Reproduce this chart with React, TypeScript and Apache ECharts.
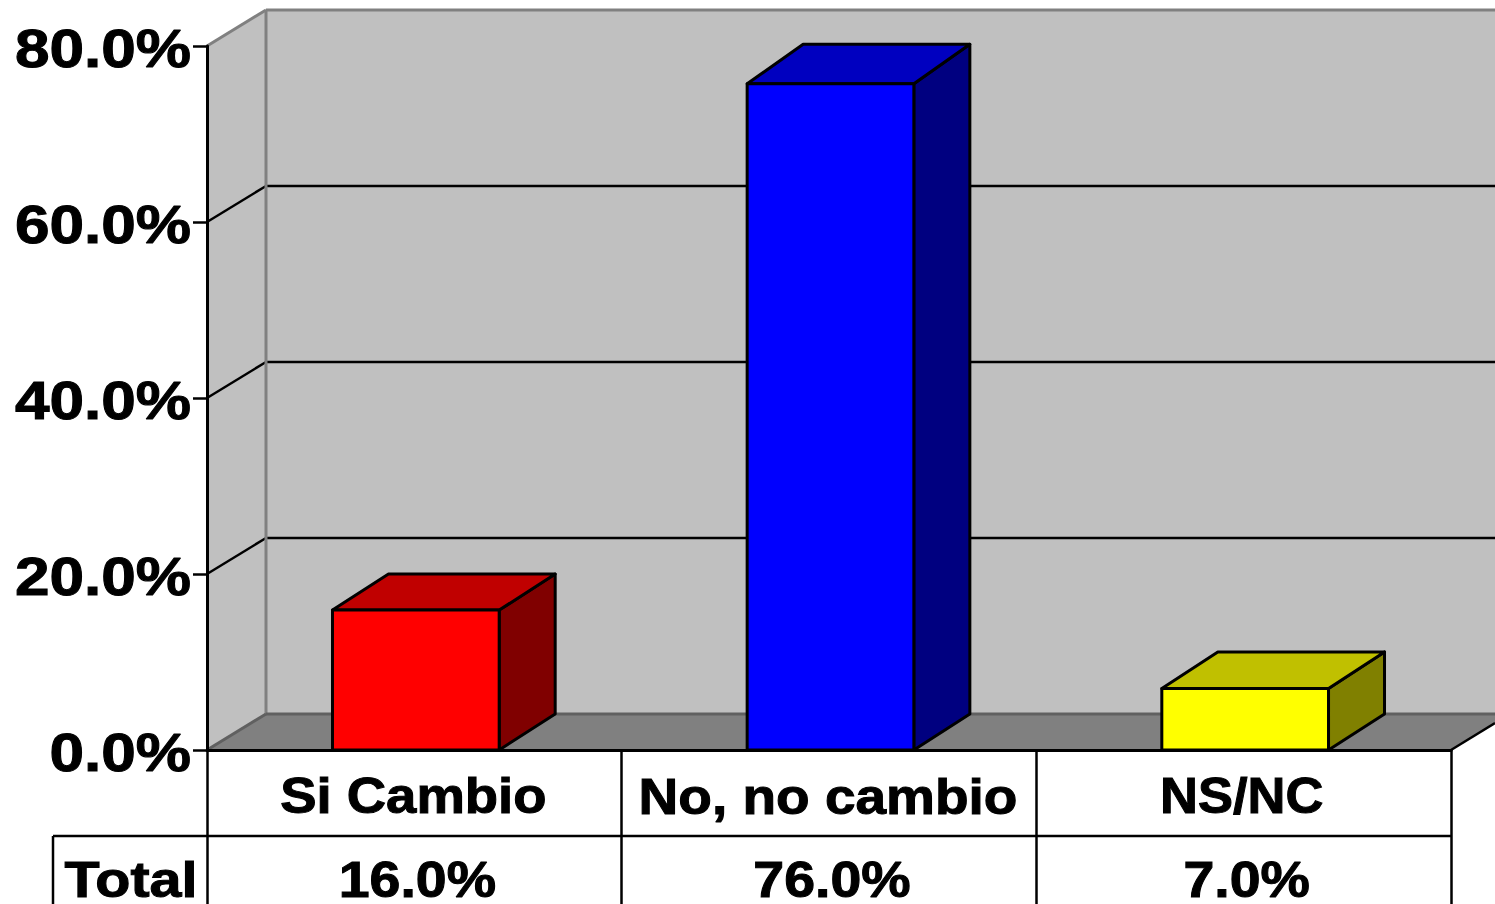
import React, { useEffect, useRef } from "react";
import * as echarts from "echarts";

const categories = ["Si Cambio", "No, no cambio", "NS/NC"];
const barValues = [15.9, 75.7, 7.0];
const totalLabels = ["16.0%", "76.0%", "7.0%"];
const rowLabel = "Total";
const yTicks = [0, 20, 40, 60, 80];
const frontColors = ["#FF0000", "#0000FF", "#FFFF00"];
const topColors = ["#C00000", "#0000C0", "#C0C000"];
const sideColors = ["#800000", "#000080", "#808000"];

const FONT = '"Liberation Sans", Arial, sans-serif';
const WALL_DX = 59;
const WALL_DY = -36;
const BAR_DX = 56;
const BAR_BASE_DEPTH = 36;
const barDepths = [36, 39.5, 36.5];
const categoryScale = [1.09, 1.1, 1.05];
const categoryShift = [-1, -1, -2];

const text = (t: string, x: number, y: number, size: number, sx: number, align: string) => ({
  type: "text",
  x,
  y,
  scaleX: sx,
  silent: true,
  style: {
    text: t,
    fill: "#000",
    stroke: "#000",
    lineWidth: 1,
    font: `bold ${size}px ${FONT}`,
    align,
    verticalAlign: "middle",
  },
});

const poly = (points: number[][], fill: string, stroke?: string, lineWidth = 3) => ({
  type: "polygon",
  silent: true,
  shape: { points },
  style: { fill, stroke: stroke ?? "none", lineWidth, lineJoin: "round" },
});

const line = (x1: number, y1: number, x2: number, y2: number, stroke: string, lineWidth: number) => ({
  type: "line",
  silent: true,
  shape: { x1, y1, x2, y2 },
  style: { stroke, lineWidth },
});

export default function App() {
  const ref = useRef<HTMLDivElement>(null);
  useEffect(() => {
    const chart = echarts.init(ref.current!, null, { renderer: "svg" });

    const renderWalls = (params: any, api: any) => {
      const cs = params.coordSys;
      const left = cs.x;
      const right = cs.x + cs.width;
      const bottom = cs.y + cs.height;
      const top = cs.y;
      const full = 1495;
      const children: any[] = [];
      children.push(
        poly([[left, bottom], [left, top], [left + WALL_DX, top + WALL_DY], [left + WALL_DX, bottom + WALL_DY]], "#C0C0C0")
      );
      children.push(
        poly([[left + WALL_DX, top + WALL_DY], [full, top + WALL_DY], [full, bottom + WALL_DY], [left + WALL_DX, bottom + WALL_DY]], "#C0C0C0")
      );
      const edgeY = bottom + (WALL_DY * (full - right)) / WALL_DX;
      children.push(
        poly([[left, bottom], [left + WALL_DX, bottom + WALL_DY], [full, bottom + WALL_DY], [full, edgeY], [right, bottom]], "#808080")
      );
      yTicks.forEach((v) => {
        if (v === 0 || v === 80) return;
        const y = api.coord([0, v])[1];
        children.push(line(left, y, left + WALL_DX, y + WALL_DY, "#000", 2.5));
        children.push(line(left + WALL_DX, y + WALL_DY, full, y + WALL_DY, "#000", 2.5));
      });
      children.push(line(left, top, left + WALL_DX, top + WALL_DY, "#808080", 3));
      children.push(line(left + WALL_DX, top + WALL_DY, full, top + WALL_DY, "#808080", 3));
      children.push(line(left + WALL_DX, top + WALL_DY, left + WALL_DX, bottom + WALL_DY, "#808080", 3));
      children.push(line(left, bottom, left + WALL_DX, bottom + WALL_DY, "#606060", 3));
      children.push(line(left + WALL_DX, bottom + WALL_DY, full, bottom + WALL_DY, "#606060", 3));
      children.push(line(right, bottom, full, edgeY, "#000", 2.5));
      return { type: "group", children };
    };

    const renderBar = (params: any, api: any) => {
      const i = api.value(0);
      const [cx, yTop] = api.coord([i, api.value(1)]);
      const [, yBase] = api.coord([i, 0]);
      const w = api.size([1, 0])[0] * 0.402;
      const x0 = cx - w / 2 + 1.5;
      const x1 = x0 + w;
      const d = -barDepths[i];
      return {
        type: "group",
        children: [
          poly([[x1, yBase], [x1, yTop], [x1 + BAR_DX, yTop + d], [x1 + BAR_DX, yBase - BAR_BASE_DEPTH]], sideColors[i], "#000"),
          poly([[x0, yTop], [x0 + BAR_DX, yTop + d], [x1 + BAR_DX, yTop + d], [x1, yTop]], topColors[i], "#000"),
          poly([[x0, yBase], [x0, yTop], [x1, yTop], [x1, yBase]], frontColors[i], "#000"),
        ],
      };
    };

    const renderTable = (params: any, api: any) => {
      const cs = params.coordSys;
      const left = cs.x;
      const right = cs.x + cs.width;
      const bottom = cs.y + cs.height;
      const rowY = bottom + 86;
      const children: any[] = [
        line(53, rowY, right, rowY, "#000", 2.5),
        line(53, rowY, 53, 904, "#000", 2.5),
        text(rowLabel, 131, bottom + 129, 50, 1.15, "center"),
      ];
      categories.forEach((c, i) => {
        const cx = api.coord([i, 0])[0];
        children.push(text(c, cx + categoryShift[i], bottom + 46, 50, categoryScale[i], "center"));
        children.push(text(totalLabels[i], cx + 3, bottom + 129, 50, 1.11, "center"));
      });
      yTicks.forEach((v) => {
        const y = api.coord([0, v])[1];
        children.push(text(`${v.toFixed(1)}%`, left - 16, y + 1.5, 54, 1.15, "right"));
      });
      return { type: "group", children };
    };

    chart.setOption({
      animation: false,
      backgroundColor: "#fff",
      grid: { left: 207, right: 44, top: 46, bottom: 154, containLabel: false },
      xAxis: {
        type: "category",
        data: categories,
        z: 5,
        axisLine: { show: true, lineStyle: { color: "#000", width: 3 } },
        axisTick: { show: true, length: 154, alignWithLabel: false, lineStyle: { color: "#000", width: 2.5 } },
        axisLabel: { show: false },
        splitLine: { show: false },
      },
      yAxis: {
        type: "value",
        min: 0,
        max: 80,
        interval: 20,
        z: 5,
        axisLine: { show: true, onZero: false, lineStyle: { color: "#000", width: 3 } },
        axisTick: { show: true, length: 14, lineStyle: { color: "#000", width: 2.5 } },
        axisLabel: { show: false },
        splitLine: { show: false },
      },
      series: [
        { type: "custom", z: 1, silent: true, clip: false, renderItem: renderWalls, data: [[0, 0]] },
        {
          type: "custom",
          z: 3,
          silent: true,
          clip: false,
          renderItem: renderBar,
          data: barValues.map((v, i) => [i, v]),
        },
        { type: "custom", z: 6, silent: true, clip: false, renderItem: renderTable, data: [[0, 0]] },
      ],
    });
    return () => chart.dispose();
  }, []);
  return (
    <div
      ref={ref}
      style={{ position: "absolute", left: 0, top: 0, width: 1495, height: 904, background: "#fff" }}
    />
  );
}
